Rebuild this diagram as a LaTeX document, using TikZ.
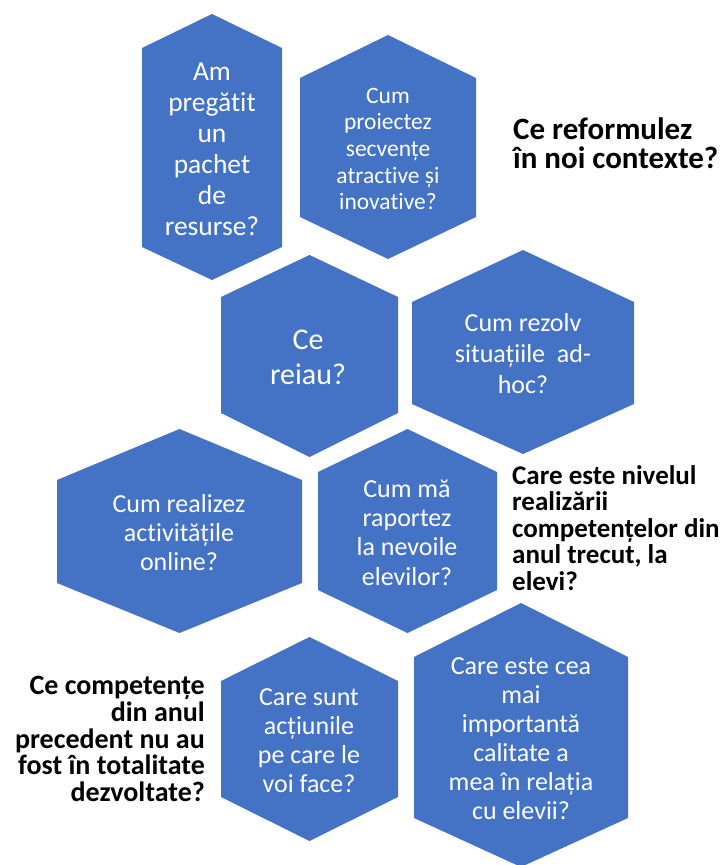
\documentclass[tikz,border=0pt]{standalone}
\usepackage{fontspec}
\setmainfont[RawFeature={-liga;-clig;-calt}]{Carlito}
\definecolor{hexblue}{HTML}{4472C4}
\newcommand{\myhex}[6]{% cx, top, shoulder1, shoulder2, bottom, halfwidth
  \fill[hexblue] ({#1-#6},#3) -- (#1,#2) -- ({#1+#6},#3) -- ({#1+#6},#4) -- (#1,#5) -- ({#1-#6},#4) -- cycle;}
\tikzset{
  hextext/.style={text=white, align=center, inner sep=0pt},
  qtext/.style={text=black, inner sep=0pt}
}
\begin{document}
\begin{tikzpicture}[x=1pt,y=-1pt]
\useasboundingbox (0,0) rectangle (720,865);
% hexagons
\myhex{212}{14}{48}{247}{280}{70}
\myhex{388}{35}{78}{217}{259}{88}
\myhex{309.5}{255}{297}{413}{457}{88.5}
\myhex{523}{250}{302}{404}{454}{111}
\myhex{179.5}{429}{480}{583}{633}{122.5}
\myhex{407.5}{429}{472}{590}{633}{89.5}
\myhex{309.5}{637}{681}{797}{841}{88.5}
\myhex{521}{603}{657}{818}{867}{107}
% texts in hexagons
\node[hextext, font=\fontsize{27.5}{31}\selectfont] (t1) at (212,149) {Am\\pregătit\\un\\pachet\\de\\resurse?};
\node[hextext, font=\fontsize{23.5}{26.7}\selectfont] (t2) at (388,149) {Cum\\proiectez\\secvențe\\atractive și\\inovative?};
\node[hextext, font=\fontsize{30}{35}\selectfont] (t3) at (308,357) {Ce\\reiau?};
\node[hextext, font=\fontsize{26}{31}\selectfont] (t4) at (523,354) {Cum rezolv\\situațiile~~ad-\\hoc?};
\node[hextext, font=\fontsize{26}{29}\selectfont] (t5) at (179,533) {Cum realizez\\activitățile\\online?};
\node[hextext, font=\fontsize{26}{29.3}\selectfont] (t6) at (407,532.5) {Cum mă\\raportez\\la nevoile\\elevilor?};
\node[hextext, font=\fontsize{26}{29}\selectfont] (t7) at (309,741) {Care sunt\\acțiunile\\pe care le\\voi face?};
\node[hextext, font=\fontsize{26}{29}\selectfont] (t8) at (521,739) {Care este cea\\mai\\importantă\\calitate a\\mea în relația\\cu elevii?};
% free questions
\node[qtext, font=\bfseries\fontsize{31}{29.5}\selectfont, align=left, anchor=west] (q1) at (513,143) {Ce reformulez\\în noi contexte?};
\node[qtext, font=\bfseries\fontsize{27}{26.6}\selectfont, align=left, anchor=west] (q2) at (512,528) {Care este nivelul\\realizării\\competențelor din\\anul trecut, la\\elevi?};
\node[qtext, font=\bfseries\fontsize{28}{26.8}\selectfont, align=right, anchor=east] (q3) at (205,739) {Ce competențe\\din anul\\precedent nu au\\fost în totalitate\\dezvoltate?};
\end{tikzpicture}
\end{document}
